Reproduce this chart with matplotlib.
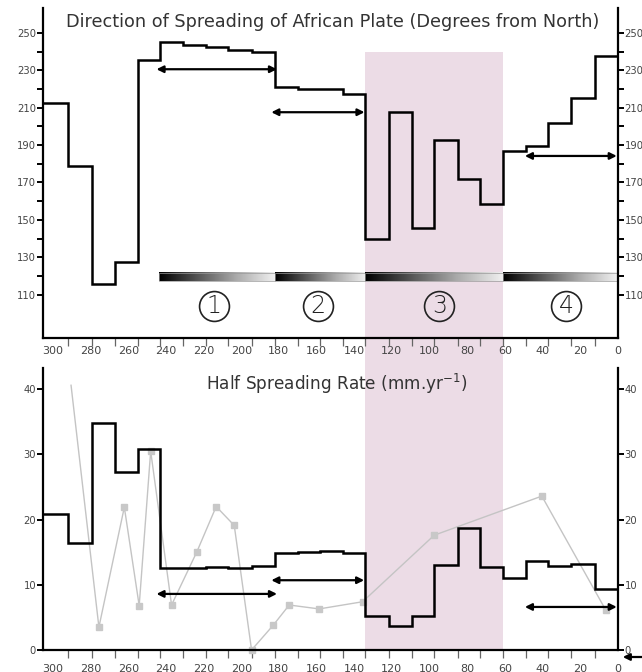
import numpy as np
import matplotlib
matplotlib.use("Agg")
import matplotlib.pyplot as plt
from matplotlib.patches import Rectangle
from matplotlib.colors import LinearSegmentedColormap
from matplotlib.transforms import blended_transform_factory

plt.rcParams['font.family'] = ['DejaVu Sans']

# ---------------- data ----------------
# step edges (Ma), left to right
edges = [305.3, 292, 279.5, 267, 255, 243, 231, 218.5, 207, 194.5, 182, 170, 158,
         146, 134, 121.5, 109.5, 97.5, 85, 73, 60.7, 48.8, 37, 25, 12.2, 0]
direction = [212.5, 179, 115.5, 127.5, 235.5, 245, 243.7, 242.3, 241, 239.7, 221,
             220, 219.8, 217.5, 140, 207.8, 145.5, 192.8, 172, 158.3, 187, 189.6,
             201.7, 215, 237.8]
half_rate = [20.9, 16.4, 34.8, 27.3, 30.8, 12.6, 12.6, 12.8, 12.6, 12.9, 14.8, 15.0,
             15.2, 14.8, 5.2, 3.7, 5.2, 13.0, 18.7, 12.8, 11.0, 13.7, 12.9, 13.2, 9.4]
gray_x = [290.4, 275.6, 262.1, 254.2, 248.1, 237, 223.5, 213.3, 203.7, 194.5, 183,
          174.5, 158.6, 135.5, 97.5, 40.3, 6.3]
gray_y = [40.6, 3.5, 21.9, 6.8, 30.5, 6.9, 15.1, 22, 19.1, 0, 3.8, 6.9, 6.3, 7.4,
          17.6, 23.6, 6.1]
x_labels = [300, 280, 260, 240, 220, 200, 180, 160, 140, 120, 100, 80, 60, 40, 20, 0]
top_yticks = [110, 130, 150, 170, 190, 210, 230, 250]
bot_yticks = [0, 10, 20, 30, 40]
phase_bars = [(243.5, 182), (182, 134), (134, 60.7), (60.7, 0.3)]
phase_labels = ['1', '2', '3', '4']
phase_x = [214.6, 159.2, 94.8, 27.5]
band = (134, 60.7)
top_arrows = [(245, 181, 230.6), (184, 134.5, 207.6), (49.3, 0.5, 184.2)]
bot_arrows = [(245, 181, 8.6), (184, 134.7, 10.7), (49.3, 0.5, 6.6)]

W, H = 642, 672
fig = plt.figure(figsize=(W / 100, H / 100), dpi=100)
fig.patch.set_facecolor('white')

def frac(l, t, r, b):
    return [l / W, 1 - b / H, (r - l) / W, (b - t) / H]

ax1 = fig.add_axes(frac(43, 8.3, 617.7, 338))
ax2 = fig.add_axes(frac(43, 368.3, 617.7, 650))
XL = (305.3, 0)
TOPYL = (86.8, 263.2)
BOTYL = (0, 43.2)

lab_color = '#444444'
for ax, yl, yt in ((ax1, TOPYL, top_yticks), (ax2, BOTYL, bot_yticks)):
    ax.set_facecolor('none')
    ax.spines['top'].set_visible(False)
    for s in ('left', 'right', 'bottom'):
        ax.spines[s].set_linewidth(1.6)
        ax.spines[s].set_color('black')
    ax.set_xticks(x_labels)
    ax.set_xticks(edges[1:-1], minor=True)
    ax.set_yticks(yt)
    ax.tick_params(axis='x', which='major', length=0, labelsize=8, labelcolor=lab_color)
    ax.tick_params(axis='x', which='minor', length=6, width=0.9, color='#666666',
                   direction='out')
    ax.tick_params(axis='y', which='both', length=4, width=1.4, color='black',
                   labelsize=7.2, labelcolor=lab_color, pad=1,
                   left=True, right=True, labelleft=True, labelright=True)
ax1.set_yticks([120, 140, 160, 180, 200, 220, 240], minor=True)
ax1.tick_params(axis='x', which='major', pad=6)
ax2.tick_params(axis='x', which='major', pad=10)

# pink band spanning both panels
bt = blended_transform_factory(ax2.transData, fig.transFigure)
p1 = ax1.get_position()
p2 = ax2.get_position()
band_top = p1.y0 + (240 - TOPYL[0]) / (TOPYL[1] - TOPYL[0]) * p1.height
band_bot = p2.y0
fig.add_artist(Rectangle((band[1], band_bot), band[0] - band[1], band_top - band_bot,
                         transform=bt, facecolor='#ecdce6', edgecolor='none', zorder=-1))

# top panel
ax1.stairs(direction[::-1], edges[::-1], baseline=None, color='black', lw=1.8, zorder=3)
cmap = LinearSegmentedColormap.from_list('g', ['#000000', '#555555', '#aaaaaa', '#f0f0f0'])
grad = np.linspace(0, 1, 256).reshape(1, -1)
for (a, b) in phase_bars:
    ax1.imshow(grad, cmap=cmap, extent=(a, b, 117.3, 121.8), aspect='auto', zorder=2)
    ax1.add_patch(Rectangle((b, 117.3), a - b, 4.5, fill=False, edgecolor='#999999',
                            lw=0.5, zorder=2))
for lbl, x in zip(phase_labels, phase_x):
    ax1.plot([x], [104], marker='o', ms=21.5, mfc='none', mec='#222222', mew=1.2, zorder=3)
    ax1.text(x, 104, lbl, ha='center', va='center', fontsize=17, color='#222222',
             fontweight='light', zorder=3)
for (a, b, y) in top_arrows:
    ax1.annotate('', xy=(b, y), xytext=(a, y),
                 arrowprops=dict(arrowstyle='<|-|>', lw=1.6, color='black',
                                 mutation_scale=10, shrinkA=0, shrinkB=0), zorder=4)

# bottom panel
ax2.plot(gray_x, gray_y, color='#c4c4c4', lw=1.0, marker='s', ms=3.8,
         mfc='#c8c8c8', mec='#c8c8c8', markevery=list(range(1, len(gray_x))),
         zorder=2, clip_on=False)
ax2.stairs(half_rate[::-1], edges[::-1], baseline=None, color='black', lw=1.8, zorder=3)
for (a, b, y) in bot_arrows:
    ax2.annotate('', xy=(b, y), xytext=(a, y),
                 arrowprops=dict(arrowstyle='<|-|>', lw=1.6, color='black',
                                 mutation_scale=10, shrinkA=0, shrinkB=0), zorder=4)

for ax, yl in ((ax1, TOPYL), (ax2, BOTYL)):
    ax.set_xlim(*XL)
    ax.set_ylim(*yl)

# titles (fit widths)
t1 = fig.text(332.5 / W, 1 - 21.7 / H,
              'Direction of Spreading of African Plate (Degrees from North)',
              ha='center', va='center', fontsize=12.5, color='#333333')
t2 = fig.text(337 / W, 1 - 384 / H, 'Half Spreading Rate (mm.yr$^{-1}$)',
              ha='center', va='center', fontsize=12.5, color='#333333')
fig.canvas.draw()
r = fig.canvas.get_renderer()
for t, target in ((t1, 535), (t2, 261)):
    w = t.get_window_extent(r).width
    t.set_fontsize(t.get_fontsize() * target / w)

# stray arrow at bottom-right corner
fig.add_artist(matplotlib.patches.FancyArrowPatch((1.01, 15 / H), (620 / W, 15 / H),
               transform=fig.transFigure, arrowstyle='-|>', mutation_scale=10,
               lw=1.6, color='black'))

fig.savefig('out.png', dpi=100)
